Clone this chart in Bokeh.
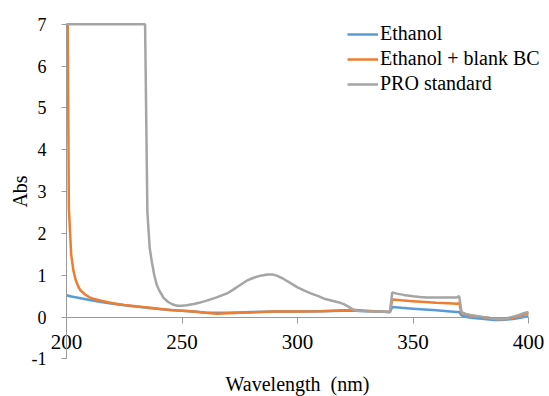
from bokeh.plotting import figure
from bokeh.models import Range1d, Legend, LegendItem, FixedTicker
from bokeh.embed import file_html
from bokeh.resources import INLINE

# ---- data ----
wl_ethanol = [200, 202, 205, 210, 215, 220, 225, 230, 235, 240, 245, 250, 255, 260, 265,
              270, 275, 280, 290, 300, 310, 320, 325, 330, 335, 340, 341, 345, 350, 355,
              360, 365, 369, 370, 371, 373, 376, 380, 385, 388, 391, 394, 397, 400]
abs_ethanol = [0.52, 0.49, 0.46, 0.41, 0.36, 0.32, 0.28, 0.25, 0.22, 0.19, 0.17, 0.15, 0.13,
               0.11, 0.10, 0.10, 0.11, 0.12, 0.13, 0.13, 0.14, 0.15, 0.15, 0.14, 0.13, 0.12,
               0.24, 0.22, 0.20, 0.18, 0.16, 0.14, 0.12, 0.12, 0.04, 0.00, -0.02, -0.04,
               -0.07, -0.07, -0.06, -0.04, -0.01, 0.02]

wl_blank_bc = [200, 200.5, 201, 202, 203, 204, 205, 206, 208, 210, 212, 215, 220, 225, 230,
               235, 240, 245, 250, 255, 260, 265, 270, 275, 280, 290, 300, 310, 320, 325,
               330, 335, 340, 341, 345, 350, 355, 360, 365, 369, 370, 371, 373, 376, 380,
               385, 388, 391, 394, 397, 400]
abs_blank_bc = [7.0, 7.0, 2.6, 1.5, 1.1, 0.88, 0.74, 0.64, 0.54, 0.47, 0.43, 0.39, 0.33,
                0.29, 0.26, 0.23, 0.20, 0.17, 0.15, 0.13, 0.10, 0.08, 0.09, 0.10, 0.11,
                0.13, 0.13, 0.14, 0.16, 0.17, 0.15, 0.13, 0.12, 0.42, 0.40, 0.38, 0.36,
                0.34, 0.33, 0.32, 0.33, 0.10, 0.06, 0.03, 0.00, -0.04, -0.05, -0.04,
                -0.01, 0.04, 0.09]

wl_pro = [200, 234, 235, 236, 237, 238, 239, 240, 242, 244, 246, 248, 250, 252, 255, 258,
          260, 265, 270, 272, 275, 278, 281, 284, 287, 289, 291, 294, 297, 300, 303, 306,
          309, 312, 315, 318, 320, 322, 324, 326, 330, 335, 340, 341, 343, 346, 350, 353,
          356, 360, 365, 369, 370, 371, 373, 376, 380, 384, 387, 390, 393, 396, 398, 400]
abs_pro = [7.0, 7.0, 2.5, 1.65, 1.3, 1.0, 0.78, 0.65, 0.46, 0.36, 0.30, 0.27, 0.27, 0.28,
           0.31, 0.35, 0.38, 0.47, 0.58, 0.65, 0.76, 0.87, 0.94, 0.99, 1.02, 1.02, 0.99,
           0.91, 0.81, 0.71, 0.63, 0.56, 0.50, 0.43, 0.39, 0.35, 0.31, 0.25, 0.18, 0.15,
           0.14, 0.13, 0.12, 0.59, 0.56, 0.53, 0.50, 0.48, 0.47, 0.47, 0.47, 0.47, 0.50,
           0.12, 0.07, 0.04, 0.00, -0.03, -0.05, -0.04, 0.00, 0.05, 0.09, 0.12]

series_names = ["Ethanol", "Ethanol + blank BC", "PRO standard"]
series_colors = ["#5B9BD5", "#ED7D31", "#A5A5A5"]
x_ticks = [200, 250, 300, 350, 400]
y_ticks = [-1, 0, 1, 2, 3, 4, 5, 6, 7]
y_tick_text = {-1: "-1"}

FONT = "Liberation Serif"
AXIS_COLOR = "#9A9A9A"

# The frame covers the whole canvas; both axes are pinned at x=200 / y=0.
p = figure(width=549, height=396, output_backend="svg", toolbar_location=None,
           x_range=Range1d(171.4, 409.1), y_range=Range1d(-1.9, 7.57),
           min_border_left=0, min_border_right=0, min_border_top=0,
           min_border_bottom=0)
p.title.visible = False
p.outline_line_color = None
p.xgrid.visible = False
p.ygrid.visible = False
p.background_fill_color = "white"
p.border_fill_color = "white"

renderers = []
for xs, ys, c in [(wl_ethanol, abs_ethanol, series_colors[0]),
                  (wl_blank_bc, abs_blank_bc, series_colors[1]),
                  (wl_pro, abs_pro, series_colors[2])]:
    r = p.line(xs, ys, line_color=c, line_width=2.5)
    renderers.append(r)

# x axis crossing at y = 0
xa = p.xaxis[0]
xa.fixed_location = 0
xa.bounds = (200, 400)
xa.ticker = FixedTicker(ticks=x_ticks)
xa.axis_line_color = AXIS_COLOR
xa.major_tick_line_color = AXIS_COLOR
xa.major_tick_out = 6
xa.major_tick_in = 0
xa.minor_tick_line_color = None
xa.major_label_text_font = FONT
xa.major_label_text_font_size = "21px"
xa.major_label_text_color = "black"
xa.major_label_standoff = 12
xa.axis_label = "Wavelength\u00a0\u00a0(nm)"
xa.axis_label_text_font = FONT
xa.axis_label_text_font_size = "20px"
xa.axis_label_text_font_style = "normal"
xa.axis_label_text_color = "black"
xa.axis_label_standoff = 20

# y axis at x = 200
ya = p.yaxis[0]
ya.fixed_location = 200
ya.bounds = (-1, 7)
ya.ticker = FixedTicker(ticks=y_ticks)
ya.major_label_overrides = y_tick_text
ya.axis_line_color = AXIS_COLOR
ya.major_tick_line_color = AXIS_COLOR
ya.major_tick_out = 5
ya.major_tick_in = 0
ya.minor_tick_line_color = None
ya.major_label_text_font = FONT
ya.major_label_text_font_size = "18px"
ya.major_label_text_color = "black"
ya.major_label_standoff = 15
ya.axis_label = "Abs"
ya.axis_label_text_font = FONT
ya.axis_label_text_font_size = "20px"
ya.axis_label_text_font_style = "normal"
ya.axis_label_text_color = "black"
ya.axis_label_standoff = -2

legend = Legend(items=[LegendItem(label=n, renderers=[r]) for n, r in zip(series_names, renderers)],
                location=(347, 301))
legend.label_text_font = FONT
legend.label_text_font_size = "20px"
legend.label_text_color = "black"
legend.glyph_width = 31
legend.glyph_height = 22
legend.label_height = 22
legend.label_standoff = 2
legend.spacing = 2
legend.padding = 0
legend.margin = 0
legend.border_line_color = None
legend.background_fill_alpha = 0
p.add_layout(legend, "center")

open("out.html", "w").write(file_html(p, INLINE))
